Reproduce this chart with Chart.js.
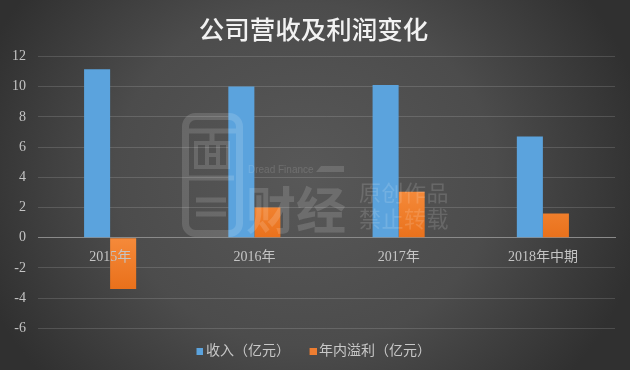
<!DOCTYPE html>
<html><head><meta charset="utf-8">
<style>
html,body{margin:0;padding:0;width:630px;height:370px;overflow:hidden;background:#3c3c3c}
#wrap{position:relative;width:630px;height:370px;background:radial-gradient(ellipse 345px 310px at 305px 175px,#585858 0%,#4c4c4c 55%,#303030 100%)}
canvas{position:absolute;left:0;top:0}
#wm{position:absolute;left:0;top:0;pointer-events:none}
</style></head><body>
<div id="wrap">
<canvas id="c" width="630" height="370"></canvas>
<svg id="wm" width="630" height="370" xmlns="http://www.w3.org/2000/svg">
<g fill="none" stroke="#ffffff" stroke-opacity=".14">
<rect x="185.5" y="116.5" width="54" height="117" rx="10" stroke-width="7"/>
<path d="M189 131H236M212 131V141" stroke-width="5"/>
<path d="M196 143H228V167H196ZM207 143V167M218 143V167M207 155H218" stroke-width="4"/>
<path d="M189 178H234" stroke-width="5"/>
<path d="M196 200H226M196 214H226" stroke-width="5"/>
</g>
<g fill="#ffffff" fill-opacity=".14">
<text x="248" y="173" font-family="Liberation Sans" font-size="10">Dread Finance</text>
<path d="M321 166H344V172H316Z"/>
<text x="246" y="229" font-family="Noto Sans CJK SC" font-weight="700" font-size="50">财经</text>
<text x="359" y="201" font-family="Noto Sans CJK SC" font-size="22" letter-spacing="0.5">原创作品</text>
<text x="359" y="227" font-family="Noto Sans CJK SC" font-size="22" letter-spacing="0.5">禁止转载</text>
</g>
</svg>
</div>
<script src="https://cdn.jsdelivr.net/npm/chart.js@4"></script>
<script>
const categories=["2015年","2016年","2017年","2018年中期"];
const revenue=[11.15,10.0,10.1,6.7];
const profit=[-3.4,2.0,3.05,1.6];
const seriesNames=["收入（亿元）","年内溢利（亿元）"];
const titleText="公司营收及利润变化";
const legendColors=['#5ba3dd','#ed7d31'];
const font='"Liberation Serif","Noto Sans CJK SC",serif';
const ctx=document.getElementById('c').getContext('2d');
const orange=ctx.createLinearGradient(0,190,0,240);orange.addColorStop(0,'#f58a3a');orange.addColorStop(1,'#e9701a');
const orangeNeg=ctx.createLinearGradient(0,238,0,290);orangeNeg.addColorStop(0,'#f58a3a');orangeNeg.addColorStop(1,'#e9701a');
function swatch(col){const k=document.createElement('canvas');k.width=9;k.height=7;const g=k.getContext('2d');g.fillStyle=col;g.fillRect(2,0,7,7);return k;}
new Chart(ctx,{
 type:'bar',
 data:{labels:categories,datasets:[
  {label:seriesNames[0],data:revenue,backgroundColor:'#5ba3dd'},
  {label:seriesNames[1],data:profit,backgroundColor:c=>c.parsed&&c.parsed.y<0?orangeNeg:orange}
 ]},
 options:{
  responsive:false,animation:false,
  layout:{padding:0},
  datasets:{bar:{categoryPercentage:0.3611,barPercentage:1}},
  plugins:{
   title:{display:true,text:titleText,color:'#f2f2f2',padding:{top:14,bottom:6},font:{family:'"Noto Sans CJK SC"',size:25.5,weight:'500'}},
   tooltip:{enabled:false},
   legend:{position:'bottom',labels:{color:'#c8c8c8',usePointStyle:true,boxHeight:7,pointStyleWidth:0.01,padding:22,font:{family:font,size:14}, 
     generateLabels(ch){return ch.data.datasets.map((d,i)=>({text:d.label,datasetIndex:i,hidden:false,fontColor:'#c8c8c8',lineWidth:0,strokeStyle:'transparent',fillStyle:legendColors[i],pointStyle:swatch(legendColors[i])}));}
   }}
  },
  scales:{
   x:{position:{y:0},grid:{display:false},border:{color:'#8a8a8a'},
      ticks:{z:1,color:'#c4c4c4',font:{family:font,size:14},padding:3,maxRotation:0}},
   y:{min:-6,max:12,
      afterFit(s){s.width=38},
      grid:{color:'rgba(255,255,255,.14)',drawTicks:false},border:{display:false},
      ticks:{stepSize:2,color:'#c4c4c4',font:{family:font,size:14},padding:12}}
  }
 },
 plugins:[{id:'pos',afterLayout(ch){
   const a=ch.chartArea;a.left=38;a.right=615;a.top=56.4;a.bottom=328.4;
   const y=ch.scales.y,x=ch.scales.x;
   y.top=56.4;y.bottom=328.4;y.height=272;y.left=0;y.right=38;y.width=38;
   x.left=38;x.right=615;x.width=577;
   y.configure();x.configure();
   ch.legend.top=322.5;
   ch.titleBlock.right=627;
 }}]
});
</script>
</body></html>
